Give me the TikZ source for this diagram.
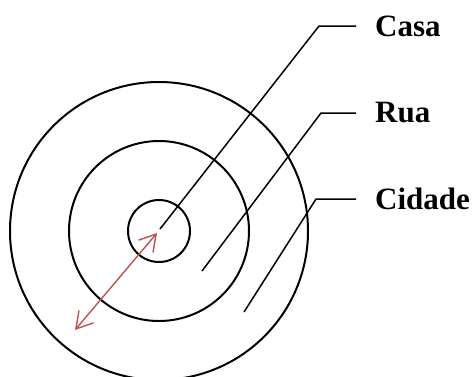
\documentclass[tikz,border=0pt]{standalone}
\usepackage{fontspec}
\setmainfont{Liberation Serif}
\usetikzlibrary{positioning, arrows.meta}
\definecolor{arrowred}{RGB}{192,80,77}

\begin{document}
\begin{tikzpicture}
    [
        x=1pt, y=-1pt,
        ring/.style={draw, circle, line width=2pt, inner sep=0pt},
        tag/.style={anchor=west, inner xsep=19pt, inner ysep=0pt,
                    font=\bfseries\fontsize{31}{31}\selectfont},
        leader/.style={line width=1.5pt},
        span/.style={draw=arrowred, line width=1.4pt,
                     {Straight Barb[length=16pt, width=19pt]}-{Straight Barb[length=16pt, width=19pt]}}
    ]
        \useasboundingbox (0,0) rectangle (473,376);
        % =========================================================================
        % NODES
        % =========================================================================
        % --- Rings ---
        \coordinate (centre) at (159,231);
        \node [ring, minimum size=298pt] (cidadering) at (centre) {};
        \node [ring, minimum size=180pt] (ruaring) at (centre) {};
        \node [ring, minimum size=62pt] (casaring) at (centre) {};
        % --- Labels ---
        \node [tag] (casa) at (356,26) {Casa};
        \node [tag] (rua) at (356,113) {Rua};
        \node [tag] (cidade) at (356,199) {Cidade};
        % --- Leader points ---
        \coordinate (casatip) at (160,229);
        \coordinate (casaknee) at (319,26);
        \coordinate (ruatip) at (202,271);
        \coordinate (ruaknee) at (321,113);
        \coordinate (cidadetip) at (244,312);
        \coordinate (cidadeknee) at (316,199);
        % --- Radius arrow ---
        \coordinate (inner) at (157,233);
        \coordinate (outer) at (75,330);

        % =========================================================================
        % PATHS
        % =========================================================================
        \draw [leader] (casatip) -- (casaknee) -- (casa.west);
        \draw [leader] (ruatip) -- (ruaknee) -- (rua.west);
        \draw [leader] (cidadetip) -- (cidadeknee) -- (cidade.west);
        \draw [span] (inner) -- (outer);

    \end{tikzpicture}
\end{document}
